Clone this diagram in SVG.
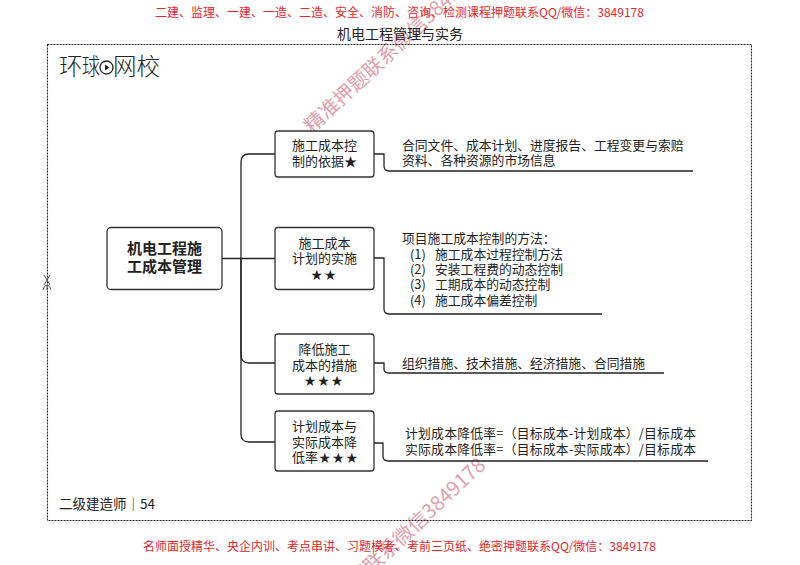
<svg xmlns="http://www.w3.org/2000/svg" width="800" height="565" viewBox="0 0 800 565">
<defs>
<style>
text{font-family:"Noto Sans CJK SC","Liberation Sans",sans-serif;fill:#222}
.red{fill:#e8262b;font-size:12px}
.wm{fill:#d9808f;font-size:20px;opacity:.75}
.box{fill:#fff;stroke:#333;stroke-width:1.3}
.lbl{font-size:13px;text-anchor:middle}
.star{letter-spacing:2px;font-size:11.500px}
.note{font-size:12.800px}
.line{fill:none;stroke:#222;stroke-width:1.3}
.rt{font-size:15px;font-weight:700;text-anchor:middle}
.lg{font-size:23.500px;font-weight:300}
</style>
</defs>
<rect width="800" height="565" fill="#fff"/>
<text class="wm" transform="translate(312 134) rotate(-43)">精准押题联系微信3849178</text>
<text class="wm" transform="translate(313 629) rotate(-43)">精准押题联系微信3849178</text>
<rect x="47.500" y="44.500" width="704" height="476" fill="none" stroke="#222" stroke-width="1.100" stroke-dasharray="2 1"/>
<text class="red" x="155" y="17">二建、监理、一建、一造、二造、安全、消防、咨询、检测课程押题联系QQ/微信：3849178</text>
<text x="337" y="39" font-size="14">机电工程管理与实务</text>
<g id="logo">
<text class="lg" x="59" y="75">环</text>
<text class="lg" x="82" y="75" textLength="18" lengthAdjust="spacingAndGlyphs">球</text>
<circle cx="106.500" cy="67.500" r="6.500" fill="#fff" stroke="#222" stroke-width="1.300"/>
<path d="M105 64.500l4.500 3-4.500 3z" fill="#222"/>
<text class="lg" x="113" y="75">网校</text>
</g>
<path d="M44 275l6 10M50 275l-6 10M43 290q1-5 4-5t4 5" fill="none" stroke="#555" stroke-width="1"/>
<path d="M47 285v5" stroke="#555" stroke-width="1"/>
<g id="connectors">
<path class="line" d="M222 258.500H275"/>
<path class="line" d="M241 258V162Q241 154 249 154H275"/>
<path class="line" d="M241 258V355Q241 363 249 363H275"/>
<path class="line" d="M241 258V434Q241 442 249 442H275"/>
<path class="line" d="M374 154H384V166Q384 171 389 171H693"/>
<path class="line" d="M374 258H384V309Q384 314 389 314H602"/>
<path class="line" d="M374 363H384V369Q384 373 389 373H664"/>
<path class="line" d="M374 443H383V456Q383 461 388 461H708"/>
</g>
<g id="root"><rect class="box" x="107" y="227.500" width="115" height="62" rx="4"/>
<text class="rt" x="164.500" y="254">机电工程施</text>
<text class="rt" x="164.500" y="272">工成本管理</text></g>
<g id="n1"><rect class="box" x="275" y="131" width="99" height="46" rx="3"/>
<text class="lbl" x="324.500" y="150">施工成本控</text><text class="lbl" x="324.500" y="166">制的依据★</text></g>
<g id="n2"><rect class="box" x="275" y="227.500" width="99" height="62" rx="3"/>
<text class="lbl" x="324.500" y="248">施工成本</text><text class="lbl" x="324.500" y="263">计划的实施</text><text class="lbl star" x="324.500" y="279">★★</text></g>
<g id="n3"><rect class="box" x="275" y="334" width="99" height="60" rx="3"/>
<text class="lbl" x="324.500" y="354">降低施工</text><text class="lbl" x="324.500" y="370">成本的措施</text><text class="lbl star" x="324.500" y="385">★★★</text></g>
<g id="n4"><rect class="box" x="275" y="411" width="99" height="60" rx="3"/>
<text class="lbl" x="324.500" y="431">计划成本与</text><text class="lbl" x="324.500" y="447">实际成本降</text><text class="lbl" x="292" y="462" style="text-anchor:start">低率<tspan class="star" dx="1">★★★</tspan></text></g>
<g id="notes">
<text class="note" x="402" y="150">合同文件、成本计划、进度报告、工程变更与索赔</text>
<text class="note" x="402" y="165">资料、各种资源的市场信息</text>
<text class="note" x="402" y="243">项目施工成本控制的方法：</text>
<text class="note" x="410" y="259">(1) <tspan x="435">施工成本过程控制方法</tspan></text>
<text class="note" x="410" y="274">(2) <tspan x="435">安装工程费的动态控制</tspan></text>
<text class="note" x="410" y="289">(3) <tspan x="435">工期成本的动态控制</tspan></text>
<text class="note" x="410" y="305">(4) <tspan x="435">施工成本偏差控制</tspan></text>
<text class="note" x="402" y="368">组织措施、技术措施、经济措施、合同措施</text>
<text class="note" x="405" y="438" textLength="291">计划成本降低率=（目标成本-计划成本）/目标成本</text>
<text class="note" x="405" y="454" textLength="291">实际成本降低率=（目标成本-实际成本）/目标成本</text>
</g>
<text x="59" y="509" font-size="13.500">二级建造师｜54</text>
<text class="red" x="143" y="551">名师面授精华、央企内训、考点串讲、习题模考、考前三页纸、绝密押题联系QQ/微信：3849178</text>
</svg>
